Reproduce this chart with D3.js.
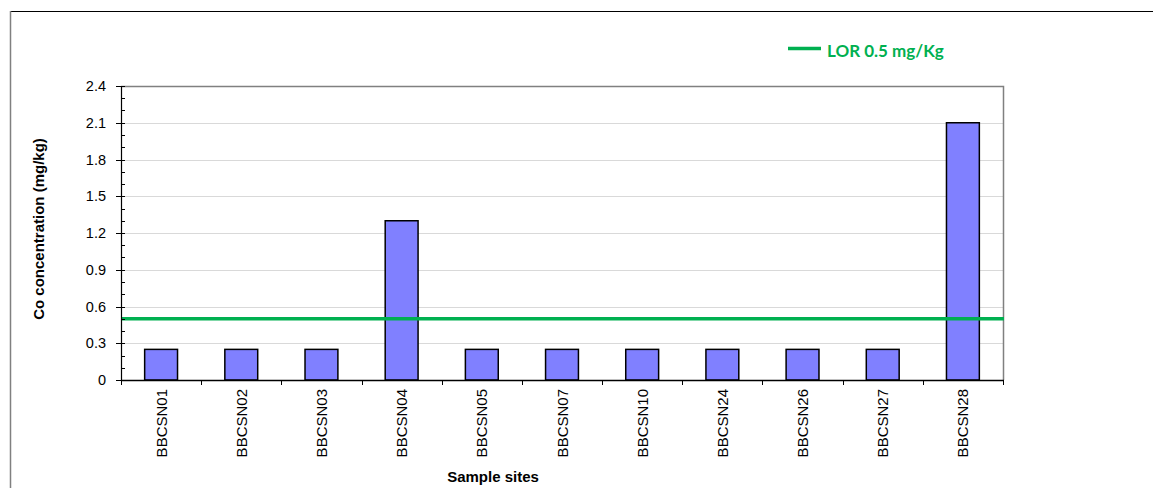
<!DOCTYPE html>
<html>
<head>
<meta charset="utf-8">
<script src="https://cdn.jsdelivr.net/npm/d3@7"></script>
<style>
  html, body { margin: 0; padding: 0; background: #fff; }
  svg { display: block; }
</style>
</head>
<body>
<svg id="chart" width="1153" height="488"></svg>
<script>
// Cobalt concentration per sample site
const sites = ["BBCSN01", "BBCSN02", "BBCSN03", "BBCSN04", "BBCSN05", "BBCSN07",
               "BBCSN10", "BBCSN24", "BBCSN26", "BBCSN27", "BBCSN28"];
const coValues = [0.25, 0.25, 0.25, 1.3, 0.25, 0.25, 0.25, 0.25, 0.25, 0.25, 2.1];
const yTicks = [0, 0.3, 0.6, 0.9, 1.2, 1.5, 1.8, 2.1, 2.4];
const yMinorTicks = d3.range(0, 25).map(i => i / 10);
const lorValue = 0.5;
const lorLabel = "LOR 0.5 mg/Kg";

const FONT = "Liberation Sans, Arial, sans-serif";
const svg = d3.select("#chart");
const m = { left: 121, top: 86, right: 1003, bottom: 380 };

// outer frame
svg.append("line").attr("x1", 10).attr("x2", 1153).attr("y1", 11.5).attr("y2", 11.5)
  .attr("stroke", "#000").attr("stroke-width", 1);
svg.append("line").attr("x1", 10.5).attr("x2", 10.5).attr("y1", 11).attr("y2", 488)
  .attr("stroke", "#808080").attr("stroke-width", 1.5);

const x = d3.scaleBand().domain(sites).range([m.left, m.right]).paddingInner(0.59).paddingOuter(0.295);
const xb = d3.scaleBand().domain(sites).range([m.left, m.right]);
const y = d3.scaleLinear().domain([0, 2.4]).range([m.bottom, m.top]);

// grid lines
svg.append("g").selectAll("line").data(yTicks.filter(d => d > 0 && d < 2.4)).join("line")
  .attr("x1", m.left).attr("x2", m.right)
  .attr("y1", d => Math.round(y(d)) + 0.5).attr("y2", d => Math.round(y(d)) + 0.5)
  .attr("stroke", "#d9d9d9").attr("stroke-width", 1);

// plot frame (top and right)
svg.append("path")
  .attr("d", `M${m.left},${m.top + 0.5}H${m.right + 0.5}V${m.bottom}`)
  .attr("fill", "none").attr("stroke", "#808080").attr("stroke-width", 1.5);

// bars
svg.append("g").selectAll("rect").data(sites).join("rect")
  .attr("x", d => x(d)).attr("width", x.bandwidth())
  .attr("y", (d, i) => y(coValues[i])).attr("height", (d, i) => y(0) - y(coValues[i]))
  .attr("fill", "#8080FF").attr("stroke", "#000").attr("stroke-width", 1.5);

// LOR reference line
svg.append("line").attr("x1", m.left).attr("x2", m.right + 1)
  .attr("y1", y(lorValue)).attr("y2", y(lorValue))
  .attr("stroke", "#00B050").attr("stroke-width", 3.5);

// y axis
const yAxis = svg.append("g").attr("transform", `translate(${m.left},0)`)
  .call(d3.axisLeft(y).tickValues(yTicks).tickFormat(d3.format("")).tickSize(5).tickPadding(10));
yAxis.select(".domain").attr("stroke", "#000").attr("stroke-width", 1.2);
yAxis.selectAll(".tick line").attr("stroke", "#000");
yAxis.selectAll(".tick text").attr("font-family", FONT)
  .attr("font-size", 14.5).attr("fill", "#000");
yAxis.selectAll(".tick").attr("transform", d => `translate(0,${Math.round(y(d)) + 0.5})`);
// minor ticks inside
svg.append("g").selectAll("line").data(yMinorTicks).join("line")
  .attr("x1", m.left).attr("x2", m.left + 4)
  .attr("y1", d => Math.round(y(d)) + 0.5).attr("y2", d => Math.round(y(d)) + 0.5)
  .attr("stroke", "#000").attr("stroke-width", 1);

// x axis
svg.append("line").attr("x1", m.left).attr("x2", m.right + 1)
  .attr("y1", m.bottom + 0.5).attr("y2", m.bottom + 0.5)
  .attr("stroke", "#000").attr("stroke-width", 1.5);
const bounds = sites.map(d => xb(d)).concat([m.right]);
svg.append("g").selectAll("line").data(bounds).join("line")
  .attr("x1", d => Math.round(d) + 0.5).attr("x2", d => Math.round(d) + 0.5)
  .attr("y1", m.bottom).attr("y2", m.bottom + 5)
  .attr("stroke", "#000").attr("stroke-width", 1);
svg.append("g").selectAll("text").data(sites).join("text")
  .attr("transform", d => `translate(${x(d) + x.bandwidth() / 2 + 5.5},${m.bottom + 9}) rotate(-90)`)
  .attr("text-anchor", "end")
  .attr("font-family", FONT).attr("font-size", 15)
  .attr("fill", "#000").text(d => d);

// axis titles
svg.append("text").attr("transform", `translate(44,229) rotate(-90)`)
  .attr("text-anchor", "middle").attr("font-family", FONT)
  .attr("font-size", 15).attr("font-weight", "bold").text("Co concentration (mg/kg)");
svg.append("text").attr("x", 493).attr("y", 482)
  .attr("text-anchor", "middle").attr("font-family", FONT)
  .attr("font-size", 15).attr("font-weight", "bold").text("Sample sites");

// legend
svg.append("line").attr("x1", 788).attr("x2", 821).attr("y1", 48.5).attr("y2", 48.5)
  .attr("stroke", "#00B050").attr("stroke-width", 3.5);
svg.append("text").attr("x", 827).attr("y", 57)
  .attr("font-family", "Lato, Open Sans, sans-serif").attr("font-size", 17)
  .attr("font-weight", "bold").attr("fill", "#00B050").text(lorLabel);
</script>
</body>
</html>
